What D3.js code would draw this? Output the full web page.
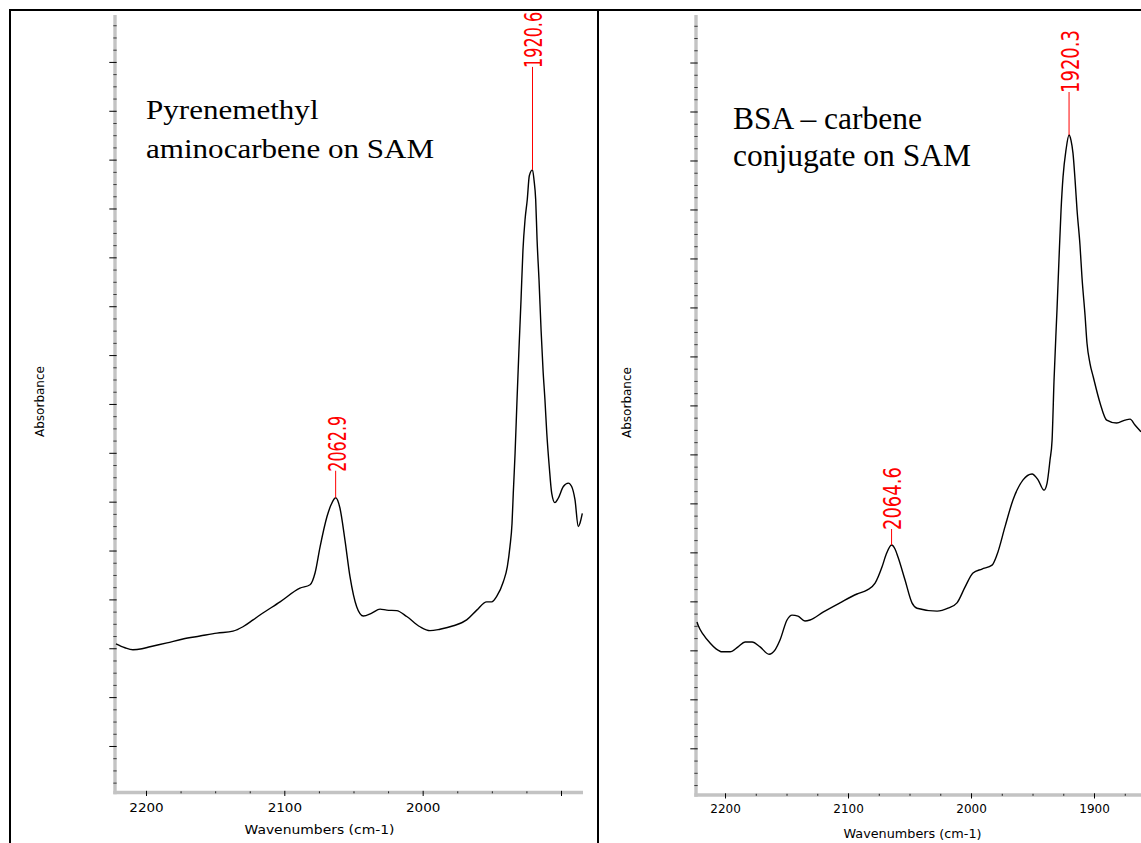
<!DOCTYPE html>
<html>
<head>
<meta charset="utf-8">
<script src="https://cdn.jsdelivr.net/npm/d3@7"></script>
<style>
  html, body { margin: 0; padding: 0; background: #ffffff; }
  svg { display: block; }
</style>
</head>
<body>
<svg id="chart" width="1141" height="843"></svg>
<script>
// ---------------- DATA ----------------
// Left spectrum: Pyrenemethyl aminocarbene on SAM (absorbance in arbitrary units)
const leftWavenumbers = [2221.7, 2215.2, 2209.4, 2202.9, 2197.1, 2184.8, 2173.3, 2161.0, 2148.7, 2137.1,
  2129.9, 2122.6, 2117.6, 2103.1, 2088.7, 2081.4, 2077.8, 2074.2, 2069.2, 2066.3,
  2062.9, 2059.8, 2056.2, 2052.5, 2047.7, 2042.9, 2036.8, 2030.8, 2026.0, 2018.8,
  2011.5, 2001.9, 1994.7, 1987.5, 1977.8, 1968.2, 1960.9, 1953.7, 1950.1, 1946.5,
  1941.7, 1938.8, 1936.9, 1935.4, 1934.5, 1933.2, 1931.8, 1930.4, 1928.9, 1927.5,
  1926.0, 1924.4, 1922.9, 1920.6, 1919.5, 1918.3, 1917.3, 1915.9, 1914.4, 1913.0,
  1911.6, 1910.3, 1908.5, 1906.7, 1904.4, 1902.0, 1898.3, 1894.7, 1892.3, 1889.9,
  1887.5, 1886.3, 1884.6];
const leftAbsorbance = [2.09, 2.01, 1.97, 1.99, 2.03, 2.11, 2.19, 2.25, 2.31, 2.35,
  2.44, 2.58, 2.68, 2.95, 3.23, 3.30, 3.54, 4.07, 4.69, 4.93,
  5.08, 4.87, 4.22, 3.46, 2.85, 2.66, 2.72, 2.80, 2.78, 2.77,
  2.65, 2.44, 2.36, 2.39, 2.46, 2.58, 2.78, 2.95, 2.95, 3.06,
  3.36, 3.67, 4.08, 4.56, 5.17, 5.99, 7.08, 8.11, 9.13, 10.15,
  10.77, 11.18, 11.67, 11.79, 11.58, 11.18, 10.36, 9.54, 8.51, 7.70,
  7.08, 6.41, 5.72, 5.17, 4.98, 5.07, 5.31, 5.38, 5.31, 5.04,
  4.49, 4.56, 4.76];
const leftPeaks = [2062.9, 1920.6];

// Right spectrum: BSA - carbene conjugate on SAM
const rightWavenumbers = [2222.8, 2221.7, 2217.9, 2212.2, 2207.3, 2202.4, 2195.9, 2189.4, 2183.7, 2178.0,
  2171.5, 2164.2, 2159.3, 2155.3, 2149.6, 2145.5, 2140.7, 2135.0, 2130.9, 2120.3,
  2106.5, 2092.7, 2084.6, 2078.0, 2072.4, 2069.1, 2064.6, 2061.8, 2059.3, 2053.7,
  2048.0, 2043.9, 2027.6, 2018.7, 2011.4, 2004.9, 1998.4, 1991.1, 1982.9, 1978.9,
  1972.4, 1965.9, 1957.7, 1950.4, 1945.5, 1940.7, 1938.2, 1935.8, 1934.1, 1932.5,
  1930.1, 1928.5, 1926.8, 1925.2, 1922.8, 1920.3, 1918.7, 1917.1, 1915.4, 1913.8,
  1911.4, 1909.8, 1907.3, 1905.7, 1903.3, 1900.6, 1895.1, 1889.7, 1881.6, 1874.8,
  1870.7, 1866.7, 1861.8];
const rightAbsorbance = [2.58, 2.50, 2.33, 2.15, 2.03, 1.97, 1.97, 2.07, 2.17, 2.17,
  2.07, 1.92, 2.01, 2.21, 2.62, 2.72, 2.70, 2.60, 2.62, 2.78,
  2.97, 3.15, 3.23, 3.37, 3.70, 3.95, 4.15, 4.07, 3.90, 3.44,
  2.97, 2.86, 2.80, 2.86, 2.97, 3.29, 3.58, 3.66, 3.74, 3.95,
  4.52, 5.07, 5.48, 5.60, 5.48, 5.27, 5.41, 5.88, 6.29, 7.52,
  8.95, 9.97, 10.99, 11.66, 12.21, 12.52, 12.41, 12.15, 11.60, 10.99,
  10.27, 9.62, 8.84, 8.27, 7.86, 7.58, 7.05, 6.70, 6.64, 6.70,
  6.72, 6.60, 6.46];
const rightPeaks = [2064.6, 1920.3];

// Axis ticks and labels
const xMajorTicks = [2200, 2100, 2000, 1900];
const xMinorTicks = [2225, 2175, 2150, 2125, 2075, 2050, 2025, 1975, 1950, 1925, 1875];
const leftTickLabels = ["2200", "2100", "2000", ""];
const rightTickLabels = ["2200", "2100", "2000", "1900"];
const yMajorTicks = d3.range(0, 15, 1);
const yMinorTicks = d3.range(-0.75, 15, 0.25).filter(v => Math.abs(v - Math.round(v)) > 0.01);

const leftTitleLines = ["Pyrenemethyl", "aminocarbene on SAM"];
const rightTitleLines = ["BSA \u2013 carbene", "conjugate on SAM"];
const xAxisTitle = "Wavenumbers (cm-1)";
const yAxisTitle = "Absorbance";

// ---------------- LAYOUT ----------------
const panels = [
  {
    wn: leftWavenumbers, ab: leftAbsorbance, peaks: leftPeaks, tickLabels: leftTickLabels,
    titleLines: leftTitleLines,
    xDomain: [2222.4, 1884.1], xRange: [115, 583],
    yDomain: [-0.952, 14.96], yRange: [792.5, 15],
    barW: 3.4, tickFont: 13, tickSx: 1.04, tickBaseline: 811.7,
    xTitle: { x: 319.5, y: 834.3, size: 13, sx: 1.07 },
    yTitle: { x: 40, y: 401.5 },
    title: { x: 146, y: [118.5, 157.5], size: 27.5, sx: 1.13 },
    peakGap: [26, 102], peakFont: 16, peakSy: 1.55
  },
  {
    wn: rightWavenumbers, ab: rightAbsorbance, peaks: rightPeaks, tickLabels: rightTickLabels,
    titleLines: rightTitleLines,
    xDomain: [2223.6, 1861.8], xRange: [696, 1141],
    yDomain: [-0.953, 14.97], yRange: [795, 15],
    barW: 3.4, tickFont: 12, tickSx: 1.0, tickBaseline: 813,
    xTitle: { x: 912.5, y: 838, size: 12.8, sx: 1.0 },
    yTitle: { x: 627, y: 402.5 },
    title: { x: 733, y: [128.5, 165.5], size: 31.5, sx: 1.0 },
    peakGap: [15, 42], peakFont: 18, peakSy: 1.35
  }
];

const svg = d3.select("#chart");
const SANS = "'DejaVu Sans', Verdana, sans-serif";
const SERIF = "'Liberation Serif', 'Times New Roman', serif";

panels.forEach(p => {
  const g = svg.append("g");
  const x = d3.scaleLinear().domain(p.xDomain).range(p.xRange);
  const y = d3.scaleLinear().domain(p.yDomain).range(p.yRange);
  const left = p.xRange[0], right = p.xRange[1];
  const bottom = p.yRange[0], top = p.yRange[1];

  // gray axis bars
  g.append("line").attr("x1", left).attr("x2", left).attr("y1", top).attr("y2", bottom + p.barW / 2)
    .attr("stroke", "#c3c3c3").attr("stroke-width", p.barW);
  g.append("line").attr("x1", left - p.barW / 2).attr("x2", right).attr("y1", bottom).attr("y2", bottom)
    .attr("stroke", "#c3c3c3").attr("stroke-width", p.barW);

  // y ticks (no labels)
  const yAxisMinor = d3.axisLeft(y).tickValues(yMinorTicks).tickSize(p.barW).tickFormat("");
  const yAxisMajor = d3.axisLeft(y).tickValues(yMajorTicks).tickSize(p.barW + 4).tickFormat("");
  const gyMin = g.append("g").attr("transform", `translate(${left + p.barW / 2},0)`).call(yAxisMinor);
  const gyMaj = g.append("g").attr("transform", `translate(${left + p.barW / 2},0)`).call(yAxisMajor);
  [gyMin, gyMaj].forEach(a => { a.select(".domain").remove(); });
  gyMin.selectAll(".tick line").attr("stroke", "#3a3a3a");
  gyMaj.selectAll(".tick line").attr("stroke", "#000");

  // x ticks
  const xAxisMinor = d3.axisBottom(x).tickValues(xMinorTicks.filter(v => x(v) > left + 2 && x(v) < right - 2))
    .tickSize(2).tickFormat("");
  const xAxisMajor = d3.axisBottom(x).tickValues(xMajorTicks)
    .tickSize(p.barW / 2 + 3.5).tickFormat((d, i) => p.tickLabels[i]);
  const gxMin = g.append("g").attr("transform", `translate(0,${bottom - p.barW / 2 + 0.5})`).call(xAxisMinor);
  const gxMaj = g.append("g").attr("transform", `translate(0,${bottom - p.barW / 2})`).call(xAxisMajor);
  [gxMin, gxMaj].forEach(a => { a.select(".domain").remove(); });
  gxMin.selectAll(".tick line").attr("stroke", "#222");
  gxMaj.selectAll(".tick line").attr("stroke", "#000");
  gxMaj.selectAll(".tick text")
    .attr("y", p.tickBaseline - (bottom - p.barW / 2)).attr("dy", 0)
    .attr("transform", `scale(${p.tickSx},1)`)
    .attr("font-family", SANS).attr("font-size", p.tickFont).attr("fill", "#000");

  // axis titles
  g.append("text").attr("transform", `translate(${p.xTitle.x},${p.xTitle.y}) scale(${p.xTitle.sx},1)`)
    .attr("text-anchor", "middle").attr("font-family", SANS).attr("font-size", p.xTitle.size)
    .attr("fill", "#000").text(xAxisTitle);
  g.append("text").attr("transform", `translate(${p.yTitle.x},${p.yTitle.y}) rotate(-90)`)
    .attr("text-anchor", "middle").attr("dy", "0.36em").attr("font-family", SANS).attr("font-size", 12)
    .attr("fill", "#000").text(yAxisTitle);

  // spectrum
  const pts = p.wn.map((w, i) => ({ w, a: p.ab[i] }));
  const line = d3.line().x(d => x(d.w)).y(d => y(d.a)).curve(d3.curveMonotoneX);
  g.append("path").datum(pts).attr("d", line).attr("fill", "none")
    .attr("stroke", "#000").attr("stroke-width", 1.4).attr("stroke-linejoin", "round");

  // peak annotations
  p.peaks.forEach((pk, i) => {
    const idx = p.wn.indexOf(pk);
    const px = x(pk), py = y(p.ab[idx]);
    const ys = py - p.peakGap[i];
    g.append("line").attr("x1", px).attr("x2", px).attr("y1", py).attr("y2", ys - 1)
      .attr("stroke", "#ff0000").attr("stroke-width", 1);
    g.append("text")
      .attr("transform", `translate(${px + 1},${ys}) rotate(-90) scale(1,${p.peakSy})`)
      .attr("dy", "0.36em").attr("text-anchor", "start")
      .attr("font-family", SANS).attr("font-size", p.peakFont).attr("fill", "#ff0000")
      .text(d3.format(".1f")(pk));
  });

  // panel title
  p.titleLines.forEach((t, i) => {
    g.append("text").attr("transform", `translate(${p.title.x},${p.title.y[i]}) scale(${p.title.sx},1)`)
      .attr("font-family", SERIF).attr("font-size", p.title.size).attr("fill", "#000").text(t);
  });
});

// frame lines
svg.append("path").attr("d", "M10,843 V10 H1141 M598,10 V843")
  .attr("fill", "none").attr("stroke", "#000").attr("stroke-width", 2);
</script>
</body>
</html>
